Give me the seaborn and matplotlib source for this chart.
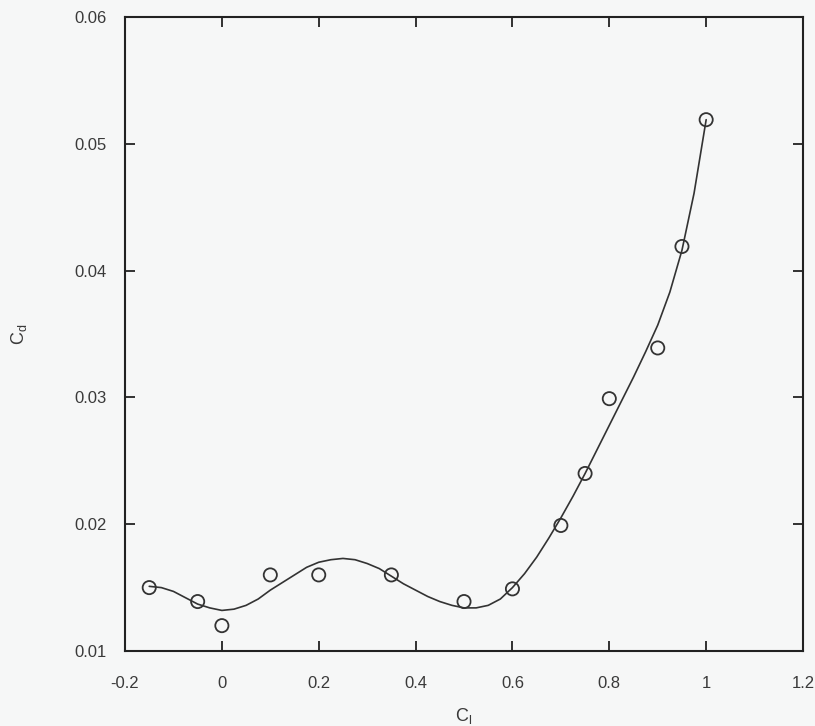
import matplotlib
matplotlib.use("Agg")
import matplotlib.pyplot as plt
import numpy as np
import pandas as pd
import seaborn as sns

# measured points (C_l, C_d)
cl_points = [-0.15, -0.05, 0.0, 0.1, 0.2, 0.35, 0.5, 0.6, 0.7, 0.75, 0.8, 0.9, 0.95, 1.0]
cd_points = [0.0150, 0.0139, 0.0120, 0.0160, 0.0160, 0.0160, 0.0139, 0.0149,
             0.0199, 0.0240, 0.0299, 0.0339, 0.0419, 0.0519]

# smooth fit curve
cl_curve = [-0.15, -0.125, -0.1, -0.075, -0.05, -0.025, 0.0, 0.025, 0.05, 0.075, 0.1, 0.125,
            0.15, 0.175, 0.2, 0.225, 0.25, 0.275, 0.3, 0.325, 0.35, 0.375, 0.4, 0.425,
            0.45, 0.475, 0.5, 0.525, 0.55, 0.575, 0.6, 0.625, 0.65, 0.675, 0.7, 0.725,
            0.75, 0.775, 0.8, 0.825, 0.85, 0.875, 0.9, 0.925, 0.95, 0.975, 1.0]
cd_curve = [0.0151, 0.0150, 0.0147, 0.0142, 0.0137, 0.0134, 0.0132, 0.0133, 0.0136, 0.0141,
            0.0148, 0.0154, 0.0160, 0.0166, 0.0170, 0.0172, 0.0173, 0.0172, 0.0169, 0.0165,
            0.0159, 0.0153, 0.0148, 0.0143, 0.0139, 0.0136, 0.0134, 0.0134, 0.0136, 0.0141,
            0.0150, 0.0161, 0.0174, 0.0189, 0.0205, 0.0222, 0.0240, 0.0259, 0.0278, 0.0297,
            0.0316, 0.0336, 0.0357, 0.0383, 0.0416, 0.0461, 0.0519]

x_ticks = [-0.2, 0, 0.2, 0.4, 0.6, 0.8, 1, 1.2]
x_labels = ["-0.2", "0", "0.2", "0.4", "0.6", "0.8", "1", "1.2"]
y_ticks = [0.01, 0.02, 0.03, 0.04, 0.05, 0.06]
y_labels = ["0.01", "0.02", "0.03", "0.04", "0.05", "0.06"]

pts = pd.DataFrame({"cl": cl_points, "cd": cd_points})
curve = pd.DataFrame({"cl": cl_curve, "cd": cd_curve})

sns.set_style("ticks")
plt.rcParams["font.family"] = ["Liberation Sans", "DejaVu Sans"]
plt.rcParams["mathtext.fontset"] = "custom"
plt.rcParams["mathtext.rm"] = "Liberation Sans"

bg = "#f6f7f7"
ink = "#333333"
txt = "#3a3a3a"

fig = plt.figure(figsize=(8.15, 7.26), dpi=100, facecolor=bg)
ax = fig.add_axes([0.1534, 0.1033, 0.8319, 0.8733])
ax.set_facecolor(bg)

sns.lineplot(data=curve, x="cl", y="cd", ax=ax, color=ink, linewidth=1.2, sort=False)
sns.scatterplot(data=pts, x="cl", y="cd", ax=ax, s=90, facecolors="none",
                edgecolor=ink, linewidth=1.3, marker="o")

ax.set_xlim(-0.2, 1.2)
ax.set_ylim(0.01, 0.06)
ax.set_xticks(x_ticks, x_labels)
ax.set_yticks(y_ticks, y_labels)
ax.tick_params(direction="in", top=True, right=True, length=7, width=1.3,
               labelsize=12, colors="#222222", labelcolor=txt)
ax.tick_params(axis="x", pad=18)
ax.tick_params(axis="y", pad=13)
for sp in ax.spines.values():
    sp.set_linewidth(1.5)
    sp.set_color("#222222")

ax.set_xlabel(r"$\mathregular{C_l}$", fontsize=13, color=txt)
ax.set_ylabel(r"$\mathregular{C_d}$", fontsize=13, color=txt)
ax.xaxis.set_label_coords(0.5, -0.086)
ax.yaxis.set_label_coords(-0.142, 0.5)

fig.savefig("out.png", dpi=100, facecolor=bg)
